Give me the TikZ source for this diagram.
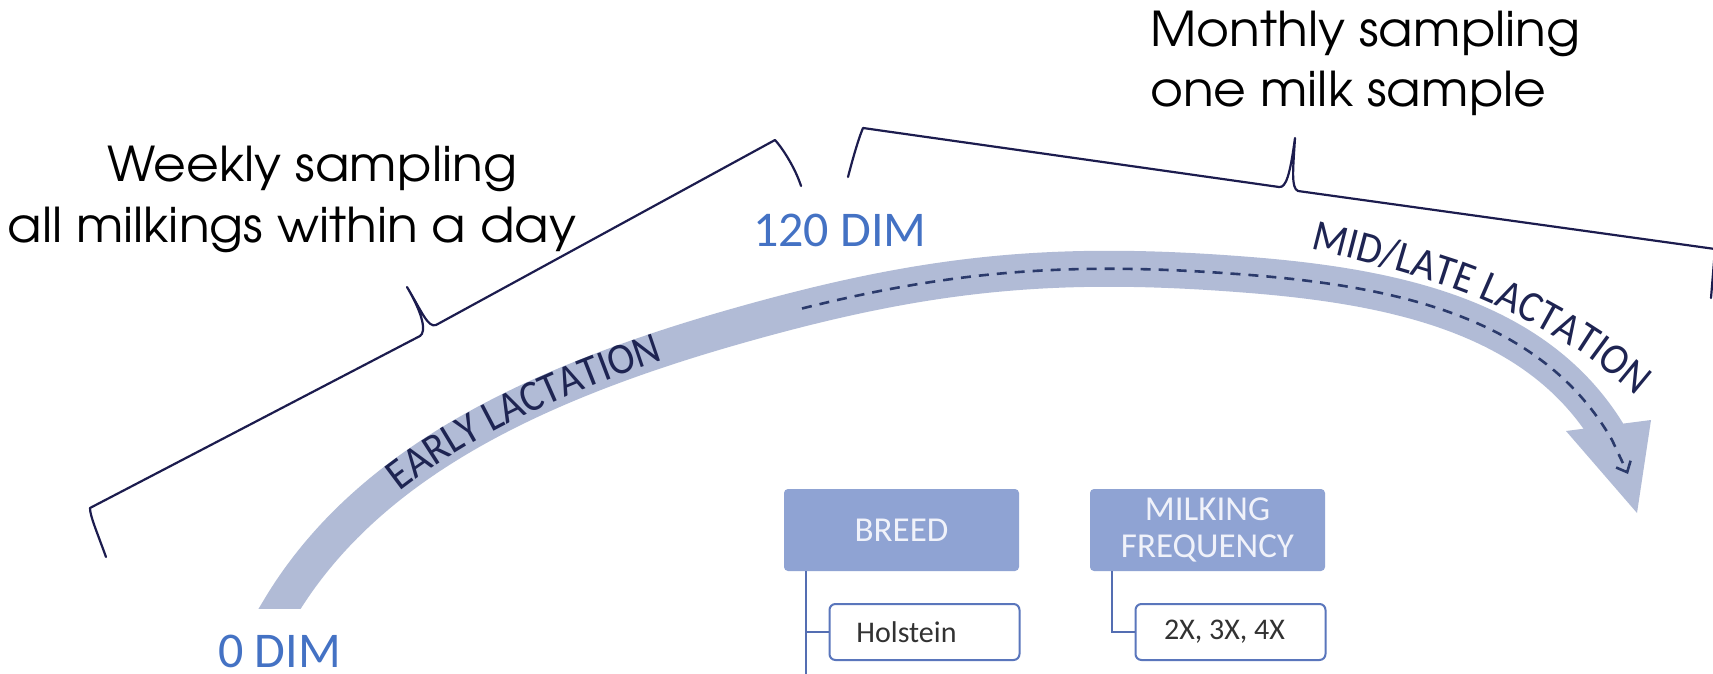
\documentclass[tikz,border=0pt]{standalone}
\usepackage{fontspec}
\setmainfont{texgyreadventor-regular.otf}[FakeStretch=1.05]
\newfontfamily\calib{Carlito}
\newfontfamily\calibnarrow{Carlito}[FakeStretch=0.92]
\usetikzlibrary{arrows.meta,decorations.text}

\definecolor{bandfill}{RGB}{177,187,214}
\definecolor{dashnavy}{RGB}{43,58,107}
\definecolor{bracenavy}{RGB}{28,28,78}
\definecolor{labeltext}{RGB}{30,36,82}
\definecolor{dimblue}{RGB}{68,114,196}
\definecolor{hdrfill}{RGB}{143,163,211}
\definecolor{hdrtext}{RGB}{240,242,250}
\definecolor{childborder}{RGB}{90,118,188}
\definecolor{childtext}{RGB}{50,50,50}
\definecolor{connline}{RGB}{84,110,178}

\begin{document}
\begin{tikzpicture}[x=1pt,y=-1pt,
  bracestyle/.style={draw=bracenavy, line width=2.2pt, line join=round, line cap=round},
  band/.style={draw=bandfill, line width=36pt},
  dashtrack/.style={draw=dashnavy, line width=2.6pt, dash pattern=on 10pt off 8pt},
  hdr/.style={fill=hdrfill, rounded corners=4pt, minimum width=235pt, minimum height=82pt,
    text=hdrtext, font=\calib\fontsize{35}{37}\selectfont, align=center, inner sep=0pt},
  child/.style={draw=childborder, line width=2pt, fill=white, rounded corners=6pt,
    minimum width=190pt, minimum height=56pt, text=childtext,
    font=\calib\fontsize{30}{32}\selectfont, inner sep=0pt},
  conn/.style={draw=connline, line width=2.5pt},
  dimlabel/.style={text=dimblue, font=\calib\fontsize{50}{50}\selectfont, inner sep=0pt},
  caption/.style={font=\fontsize{48}{60}\selectfont, inner sep=0pt, text=black}]

\useasboundingbox (0,0) rectangle (1713,674);
\fill[white] (0,0) rectangle (1713,674);

% lactation band (three joined cubic pieces), cut flat at its lower end
\begin{scope}
  \clip (0,0) rectangle (1713,608);
  \draw[band] (268,628) -- (280,608)
    .. controls (362.4,470.9) and (518.6,388.7) .. (730,328)
    .. controls (922.2,272.8) and (1050.6,259) .. (1250,275)
    .. controls (1399.6,287) and (1542.3,318.6) .. (1612,440);
\end{scope}
\fill[bandfill] (1566,431) -- (1651,420) -- (1637,513) -- cycle;

% dashed track along the middle of the band
\draw[dashtrack, -{Straight Barb[length=9pt,width=16pt]}] (802,308.5)
  .. controls (956.8,269.7) and (1076.5,261.1) .. (1250,275)
  .. controls (1399.6,287) and (1542.3,318.6) .. (1612,440) -- (1628,474);

% stage labels following the band
\path[decorate, decoration={text along path,
    text={|\calibnarrow\fontsize{44}{44}\selectfont\color{labeltext}|EARLY LACTATION},
    text align={left indent=170pt}, raise=-11pt}]
  (280,608) .. controls (362.4,470.9) and (518.6,388.7) .. (730,328)
    .. controls (922.2,272.8) and (1050.6,259) .. (1250,275);
\path[decorate, decoration={text along path,
    text={|\calibnarrow\fontsize{44}{44}\selectfont\color{labeltext}|MID/LATE LACTATION},
    text align={center}}]
  plot[smooth] coordinates {(1290,243) (1310,248) (1383,267) (1460,291) (1525,320)
    (1585,355) (1638,397) (1653,410)};

% day markers
\node[dimlabel, anchor=base west] (dim0) at (218,667) {0 DIM};
\node[dimlabel, anchor=base west] (dim120) at (753,246) {120 DIM};

% sampling captions
\node[caption, anchor=base] (wk1) at (312,182) {Weekly sampling};
\node[caption, anchor=base] (wk2) at (292,242) {all milkings within a day};
\node[caption, anchor=base west] (mo1) at (1150,47) {Monthly sampling};
\node[caption, anchor=base west] (mo2) at (1150,107) {one milk sample};

% braces
\draw[bracestyle] (106,557) .. controls (97,532) and (90,516) .. (90,508) -- (420,336)
  .. controls (426,332) and (424,316) .. (407,287)
  .. controls (422,312) and (428,328) .. (436,325) -- (775,140)
  .. controls (784,150) and (796,170) .. (801,186);
\draw[bracestyle] (848,177) .. controls (855,150) and (860,135) .. (863,128) -- (1279,187)
  .. controls (1286,188) and (1290,175) .. (1295,138)
  .. controls (1293,170) and (1291,188) .. (1298,191) -- (1715,249) -- (1711,298);

% factor boxes
\node[hdr] (breed) at (901.5,530) {BREED};
\node[hdr] (milkfreq) at (1207.5,530) {MILKING\\FREQUENCY};
\coordinate (breedtrunk) at (806,680);
\coordinate (freqtrunk) at (1112,600);
\node[child] (holstein) at (924.5,632) {\hspace*{-36pt}Holstein};
\node[child] (freqs) at (1230.5,632) {\hspace*{-12pt}2X, 3X, 4X};
\draw[conn] (breed.south -| breedtrunk) -- (breedtrunk);
\draw[conn] (milkfreq.south -| freqtrunk) |- (freqs.west);
\draw[conn] (holstein.west -| breedtrunk) -- (holstein.west);
\end{tikzpicture}
\end{document}
